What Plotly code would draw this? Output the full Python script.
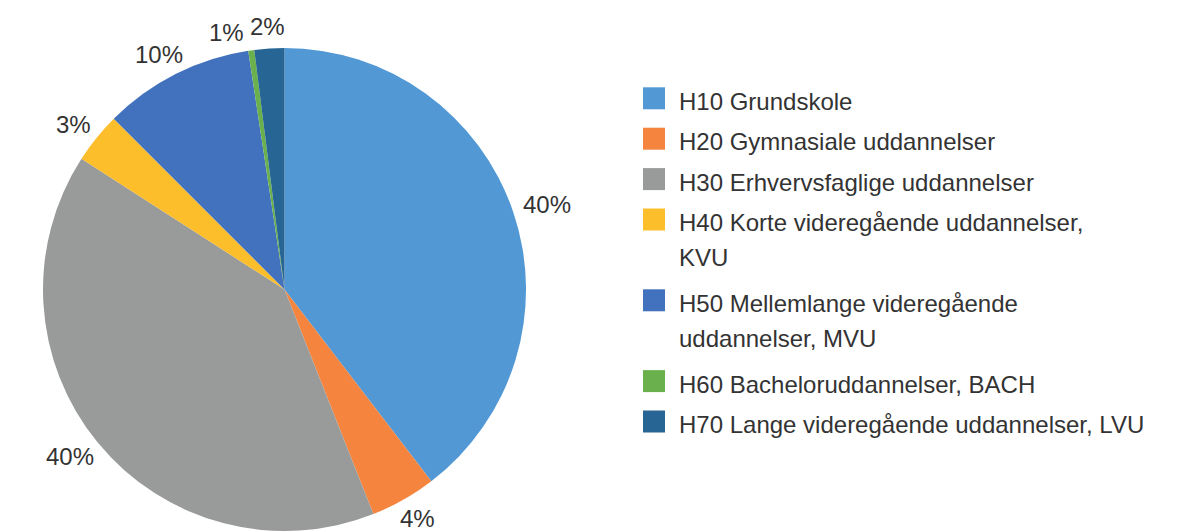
import math
import plotly.graph_objects as go

categories = [
    "H10 Grundskole",
    "H20 Gymnasiale uddannelser",
    "H30 Erhvervsfaglige uddannelser",
    "H40 Korte videregående uddannelser,<br>KVU",
    "H50 Mellemlange videregående<br>uddannelser, MVU",
    "H60 Bacheloruddannelser, BACH",
    "H70 Lange videregående uddannelser, LVU",
]
shares = [39.6, 4.4, 40.1, 3.4, 10.1, 0.4, 2.0]
share_labels = ["40%", "4%", "40%", "3%", "10%", "1%", "2%"]
colors = ["#5298D5", "#F4843E", "#999B9B", "#FDBE2C", "#4272BD", "#6AB14E", "#276594"]

W, H = 1180, 532
FONT = "Liberation Sans, Arial, sans-serif"
TXT = "#333333"
FS = 24

cx, cy, r = 284.5, 289.5, 241.5

fig = go.Figure()
fig.add_trace(go.Pie(
    labels=categories,
    values=shares,
    textinfo="none",
    marker=dict(colors=colors, line=dict(width=0)),
    sort=False,
    direction="clockwise",
    rotation=0,
    showlegend=False,
    hoverinfo="label+percent",
    domain=dict(x=[(cx - r) / W, (cx + r) / W], y=[(H - cy - r) / H, (H - cy + r) / H]),
))

annotations = []

# outside percentage labels: box placed just outside the rim on each slice's bisector
gap = 12
label_h = 20


def width(lab):
    return sum(0.889 * FS if ch == "%" else 0.556 * FS for ch in lab)


def centre(theta, lab):
    s, c = math.sin(theta), math.cos(theta)
    px, py = cx + (r + gap) * s, cy - (r + gap) * c
    return px + width(lab) / 2 * s, py - label_h / 2 * c


total = sum(shares)
pos = []
acc = 0.0
for v, lab in zip(shares, share_labels):
    pos.append([(acc + v / 2) / total * 2 * math.pi, lab])
    acc += v

# simple collision avoidance: push a label counter-clockwise if it overlaps the next one
for i in range(len(pos) - 2, -1, -1):
    while True:
        x1, y1 = centre(*pos[i])
        x2, y2 = centre(*pos[i + 1])
        if abs(x1 - x2) < (width(pos[i][1]) + width(pos[i + 1][1])) / 2 + 6 and abs(y1 - y2) < FS:
            pos[i][0] -= math.radians(0.5)
        else:
            break

for th, lab in pos:
    x, y = centre(th, lab)
    annotations.append(dict(xref="paper", yref="paper", x=x / W, y=1 - y / H,
                            xanchor="center", yanchor="middle", showarrow=False,
                            text=lab, font=dict(family=FONT, size=FS, color=TXT)))

# custom legend (large square swatches like the reference)
sq_left, sq_size = 643, 22
text_x = 677
top0 = 87.3
row_step = 40.4
line_step = 35
shapes = []
line_count = 0
for name, col in zip(categories, colors):
    top = top0 + row_step * line_count
    shapes.append(dict(type="rect", xref="paper", yref="paper",
                       x0=sq_left / W, x1=(sq_left + sq_size) / W,
                       y0=1 - (top + sq_size) / H, y1=1 - top / H,
                       fillcolor=col, line=dict(width=0)))
    lines = name.split("<br>")
    for j, ln in enumerate(lines):
        yc = top + sq_size / 2 + 3 + j * line_step
        annotations.append(dict(xref="paper", yref="paper", x=text_x / W, y=1 - yc / H,
                                xanchor="left", yanchor="middle", showarrow=False,
                                text=ln, font=dict(family=FONT, size=FS, color=TXT)))
    line_count += len(lines)

fig.update_layout(
    width=W, height=H,
    margin=dict(l=0, r=0, t=0, b=0),
    paper_bgcolor="white",
    plot_bgcolor="white",
    shapes=shapes,
    annotations=annotations,
    font=dict(family=FONT, color=TXT),
)

fig.write_html("out.html")
